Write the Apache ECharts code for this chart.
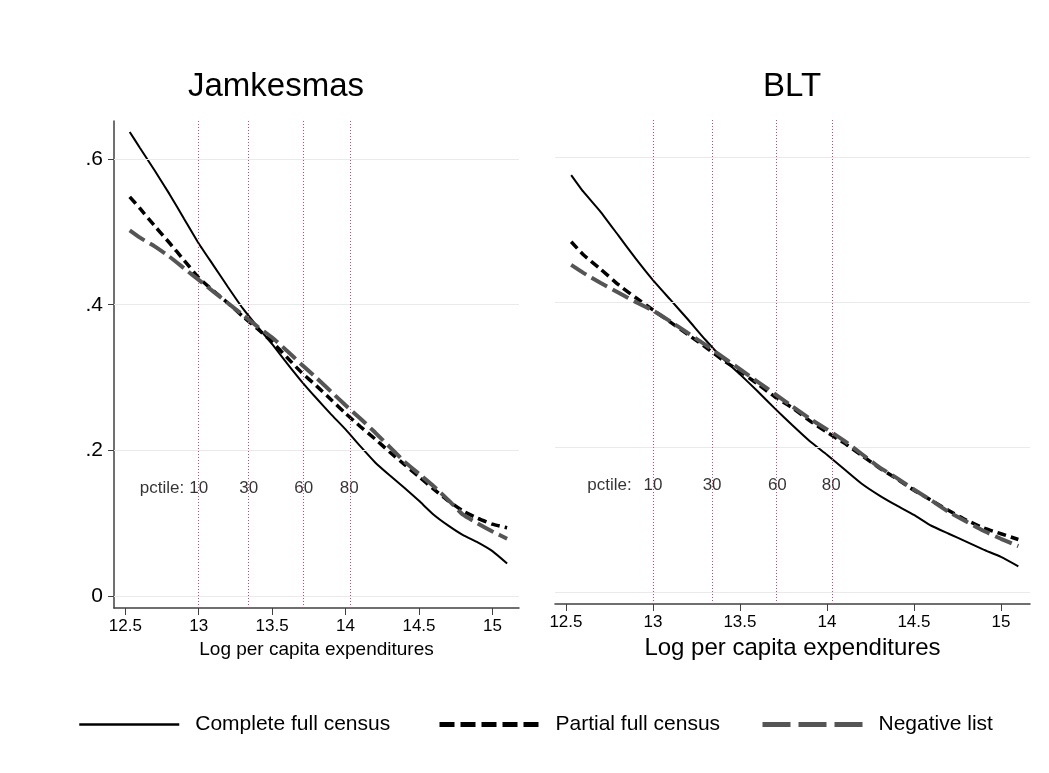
<!DOCTYPE html>
<html>
<head>
<meta charset="utf-8">
<script src="https://cdn.jsdelivr.net/npm/echarts@6/dist/echarts.min.js"></script>
<style>
  html, body { margin: 0; padding: 0; background: #fff; }
  #chart { width: 1049px; height: 773px; }
</style>
</head>
<body>
<div id="chart"></div>
<script>
// log per capita expenditures (x grid shared by every curve)
const logExp = [12.53, 12.6, 12.7, 12.8, 12.9, 13.0, 13.1, 13.2, 13.3, 13.4, 13.5, 13.6, 13.7, 13.8,
  13.9, 14.0, 14.1, 14.2, 14.3, 14.4, 14.5, 14.6, 14.7, 14.8, 14.9, 15.0, 15.1]

// Jamkesmas panel
const jamComplete = [0.637, 0.615, 0.584, 0.552, 0.518, 0.484, 0.454, 0.424, 0.395, 0.370, 0.346, 0.320, 0.295, 0.272,
  0.250, 0.229, 0.206, 0.184, 0.166, 0.149, 0.131, 0.112, 0.097, 0.084, 0.074, 0.062, 0.045]
const jamPartial = [0.548, 0.532, 0.508, 0.485, 0.461, 0.437, 0.419, 0.402, 0.384, 0.367, 0.349, 0.328, 0.307, 0.289,
  0.270, 0.251, 0.233, 0.216, 0.198, 0.181, 0.164, 0.147, 0.131, 0.117, 0.107, 0.099, 0.094]
const jamNegative = [0.502, 0.492, 0.480, 0.466, 0.450, 0.434, 0.418, 0.402, 0.386, 0.370, 0.355, 0.337, 0.318, 0.300,
  0.281, 0.262, 0.244, 0.225, 0.205, 0.185, 0.168, 0.151, 0.132, 0.112, 0.100, 0.089, 0.079]

// BLT panel
const bltComplete = [0.576, 0.553, 0.525, 0.493, 0.461, 0.431, 0.404, 0.377, 0.349, 0.323, 0.301, 0.278, 0.254, 0.231,
  0.209, 0.190, 0.170, 0.150, 0.134, 0.120, 0.107, 0.092, 0.081, 0.070, 0.059, 0.049, 0.036]
const bltPartial = [0.484, 0.466, 0.446, 0.425, 0.407, 0.390, 0.373, 0.356, 0.339, 0.321, 0.305, 0.288, 0.270, 0.255,
  0.237, 0.221, 0.206, 0.189, 0.172, 0.157, 0.141, 0.127, 0.113, 0.100, 0.089, 0.081, 0.073]
const bltNegative = [0.452, 0.441, 0.427, 0.414, 0.401, 0.389, 0.374, 0.358, 0.342, 0.325, 0.308, 0.291, 0.274, 0.257,
  0.240, 0.225, 0.209, 0.191, 0.173, 0.158, 0.142, 0.127, 0.111, 0.098, 0.085, 0.074, 0.064]

const seriesNames = ['Complete full census', 'Partial full census', 'Negative list']
const panelTitles = ['Jamkesmas', 'BLT']
const xTicks = [12.5, 13, 13.5, 14, 14.5, 15]
const yTicks = [0, 0.2, 0.4, 0.6]
const pctileX = [13.0, 13.34, 13.715, 14.025]
const pctileNames = ['10', '30', '60', '80']
const pctileLabelX = 12.75
const pctileLabelY = 0.148

const FONT = 'Liberation Sans, Arial, Helvetica, sans-serif'
const lineStyles = [
  { color: '#000', width: 2, type: 'solid' },
  { color: '#000', width: 3.5, type: [9, 5] },
  { color: '#555', width: 4, type: [18, 6] }
]
// legend keys are drawn heavier, like the Stata keys
const legendLines = [
  { color: '#000', width: 2.5, type: 'solid' },
  { color: '#000', width: 5, type: [15, 6] },
  { color: '#555', width: 5, type: [28, 8] }
]

const chart = echarts.init(document.getElementById('chart'), null, { renderer: 'canvas' })

function pairs(ys) {
  return logExp.map((x, i) => [x, ys[i]])
}

function panelSeries(idx, curves) {
  const list = []
  // grid lines + percentile markers
  list.push({
    type: 'line',
    xAxisIndex: idx,
    yAxisIndex: idx,
    data: [],
    silent: true,
    z: 1,
    markLine: {
      silent: true,
      symbol: ['none', 'none'],
      label: { show: false },
      animation: false,
      data: yTicks.map(v => ({ yAxis: v, lineStyle: { color: '#eaeaea', width: 1, type: 'solid' } }))
        .concat(pctileX.map(v => ({ xAxis: v, lineStyle: { color: '#d9406f', width: 1, type: [1, 2] } })))
    }
  })
  list.push({
    type: 'scatter',
    xAxisIndex: idx,
    yAxisIndex: idx,
    symbolSize: 0,
    silent: true,
    z: 2,
    label: {
      show: true,
      position: 'inside',
      formatter: p => p.value[2],
      color: '#000',
      fontSize: 17,
      fontFamily: FONT
    },
    data: [[pctileLabelX, pctileLabelY, 'pctile:']]
      .concat(pctileX.map((x, i) => [x, pctileLabelY, pctileNames[i]]))
  })
  curves.forEach((ys, i) => {
    list.push({
      name: seriesNames[i],
      type: 'line',
      xAxisIndex: idx,
      yAxisIndex: idx,
      data: pairs(ys),
      symbol: 'none',
      showSymbol: false,
      smooth: 0.15,
      lineStyle: lineStyles[i],
      itemStyle: { color: lineStyles[i].color },
      z: 3 + i
    })
  })
  return list
}

function xAxisFor(idx, min, max, nameSize, gap) {
  return {
    type: 'value',
    gridIndex: idx,
    min: min,
    max: max,
    name: 'Log per capita expenditures',
    nameLocation: 'middle',
    nameGap: gap,
    nameTextStyle: { fontSize: nameSize, color: '#000', fontFamily: FONT },
    axisLine: { show: true, onZero: false, lineStyle: { color: '#404040', width: 1.5 } },
    axisTick: { show: true, length: 7, customValues: xTicks, lineStyle: { color: '#404040', width: 1 } },
    axisLabel: { customValues: xTicks, fontSize: 17, color: '#000', margin: 10, fontFamily: FONT },
    splitLine: { show: false }
  }
}

const legendLefts = [78, 437, 760]

const option = {
  backgroundColor: '#fff',
  animation: false,
  title: [
    { text: panelTitles[0], left: 188, top: 70, padding: 0,
      textStyle: { fontSize: 33, fontWeight: 'normal', color: '#000', fontFamily: FONT } },
    { text: panelTitles[1], left: 763, top: 70, padding: 0,
      textStyle: { fontSize: 33, fontWeight: 'normal', color: '#000', fontFamily: FONT } }
  ],
  legend: seriesNames.map((n, i) => ({
    data: [n],
    left: legendLefts[i],
    top: 714,
    padding: 0,
    itemWidth: 100,
    itemHeight: 14,
    selectedMode: false,
    itemStyle: { opacity: 0, borderWidth: 0 },
    lineStyle: legendLines[i],
    textStyle: { fontSize: 21, color: '#000', fontFamily: FONT, padding: [0, 0, 0, 11] }
  })),
  grid: [
    { left: 114, top: 121, width: 405, height: 487 },
    { left: 555, top: 120, width: 475, height: 484 }
  ],
  xAxis: [
    xAxisFor(0, 12.423, 15.181, 19, 29),
    xAxisFor(1, 12.437, 15.167, 24, 28)
  ],
  yAxis: [
    {
      type: 'value',
      gridIndex: 0,
      min: -0.016,
      max: 0.652,
      axisLine: { show: true, lineStyle: { color: '#404040', width: 1.5 } },
      axisTick: { show: true, length: 6, customValues: yTicks, lineStyle: { color: '#404040', width: 1 } },
      axisLabel: {
        customValues: yTicks,
        fontSize: 21,
        color: '#000',
        margin: 11,
        fontFamily: FONT,
        formatter: v => (v === 0 ? '0' : String(v).replace(/^0/, ''))
      },
      splitLine: { show: false }
    },
    {
      type: 'value',
      gridIndex: 1,
      min: -0.016,
      max: 0.652,
      show: false,
      splitLine: { show: false }
    }
  ],
  series: panelSeries(0, [jamComplete, jamPartial, jamNegative])
    .concat(panelSeries(1, [bltComplete, bltPartial, bltNegative]))
}

chart.setOption(option)
</script>
</body>
</html>
